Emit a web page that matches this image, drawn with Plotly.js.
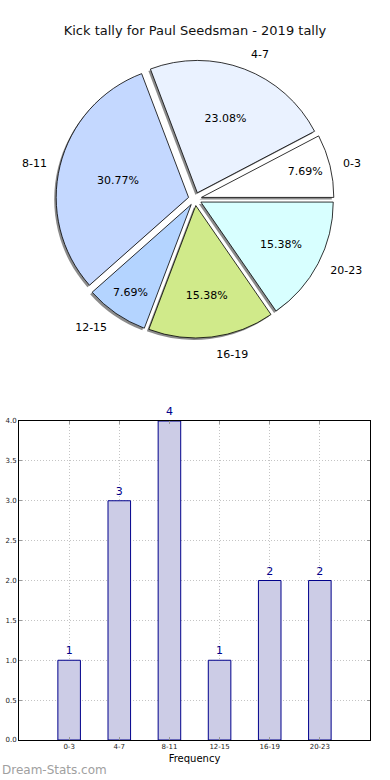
<!DOCTYPE html>
<html>
<head>
<meta charset="utf-8">
<script src="https://cdn.plot.ly/plotly-3.0.1.min.js"></script>
<style>html,body{margin:0;padding:0;background:#fff;}#chart{width:390px;height:780px;}</style>
</head>
<body>
<div id="chart"></div>
<script>
var categories = ["0-3", "4-7", "8-11", "12-15", "16-19", "20-23"];
var counts = [1, 3, 4, 1, 2, 2];
var sliceColors = ["#ffffff", "#eaf2ff", "#c4d8ff", "#b4d4ff", "#d0ea8a", "#d8ffff"];
var yTicks = [0, 0.5, 1, 1.5, 2, 2.5, 3, 3.5, 4];

var W = 390, H = 780;
function px(x) { return x / W; }
function py(y) { return 1 - y / H; }

var total = counts.reduce(function (a, b) { return a + b; }, 0);
// Plotly's counterclockwise pie ends the first slice at the rotation angle;
// shift so the first slice starts at 3 o'clock like the reference.
var rot = 90 - 360 * counts[0] / total;

var pieDomain = {x: [px(56), px(334)], y: [py(338), py(60)]};
var shadowDomain = {x: [px(54), px(332)], y: [py(340), py(62)]};
var pulls = categories.map(function () { return 0.05; });

var shadow = {
  type: "pie", labels: categories, values: counts, sort: false,
  direction: "counterclockwise", rotation: rot, pull: pulls,
  marker: {colors: categories.map(function () { return "rgba(110,110,110,0.8)"; }), line: {width: 0}},
  textinfo: "none", hoverinfo: "skip", showlegend: false, domain: shadowDomain
};

var pie = {
  type: "pie", labels: categories, values: counts, sort: false,
  direction: "counterclockwise", rotation: rot, pull: pulls,
  marker: {colors: sliceColors, line: {color: "#000000", width: 0.8}},
  texttemplate: "%{percent:.2%}", textposition: "inside", insidetextorientation: "horizontal",
  textfont: {family: "DejaVu Sans", size: 11, color: "#000000"},
  showlegend: false, domain: pieDomain
};

var labelPie = {
  type: "pie", labels: categories, values: counts, sort: false,
  direction: "counterclockwise", rotation: rot, pull: pulls,
  marker: {colors: categories.map(function () { return "rgba(0,0,0,0)"; }), line: {width: 0}},
  textinfo: "label", textposition: "outside",
  outsidetextfont: {family: "DejaVu Sans", size: 11, color: "#000000"},
  hoverinfo: "skip", showlegend: false, domain: {x: [px(14), px(376)], y: [py(349), py(51)]},
  automargin: false
};

var bars = {
  type: "bar", x: categories, y: counts, width: 0.45,
  marker: {color: "#ccccе6".replace("е", "e"), line: {color: "#00008b", width: 1}},
  text: counts.map(String), textposition: "outside", cliponaxis: false,
  textfont: {family: "DejaVu Sans", size: 11, color: "#00008b"},
  xaxis: "x", yaxis: "y", showlegend: false
};

var layout = {
  width: W, height: H,
  margin: {l: 0, r: 0, t: 0, b: 0},
  paper_bgcolor: "#ffffff", plot_bgcolor: "#ffffff",
  font: {family: "DejaVu Sans", color: "#000000"},
  title: {text: "Kick tally for Paul Seedsman - 2019 tally", x: 0.5, xanchor: "center",
          y: py(30), yanchor: "middle", yref: "paper",
          font: {family: "DejaVu Sans", size: 13, color: "#111111"}},
  xaxis: {
    domain: [px(19), px(370)], anchor: "y",
    type: "category", range: [-1, 6],
    showline: true, linecolor: "#000000", linewidth: 1, mirror: "ticks",
    ticks: "inside", ticklen: 3, tickcolor: "#999999",
    showgrid: true, gridcolor: "#c4c4c4", griddash: "1px,2px", gridwidth: 1,
    tickfont: {family: "DejaVu Sans", size: 7, color: "#222222"},
    title: {text: "Frequency", font: {family: "DejaVu Sans", size: 10, color: "#000000"}, standoff: 4},
    zeroline: false, fixedrange: true
  },
  yaxis: {
    domain: [py(740), py(421)], anchor: "x",
    range: [0, 4], tickvals: yTicks, tickformat: ".1f",
    showline: true, linecolor: "#000000", linewidth: 1, mirror: "ticks",
    ticks: "inside", ticklen: 3, tickcolor: "#999999",
    showgrid: true, gridcolor: "#c4c4c4", griddash: "1px,2px", gridwidth: 1,
    tickfont: {family: "DejaVu Sans", size: 7, color: "#222222"},
    zeroline: false, fixedrange: true
  },
  annotations: [{
    text: "Dream-Stats.com", xref: "paper", yref: "paper",
    x: 0, xanchor: "left", y: py(770), yanchor: "middle", showarrow: false,
    font: {family: "DejaVu Sans", size: 12, color: "#a0a0a0"}
  }]
};

Plotly.newPlot("chart", [shadow, pie, labelPie, bars], layout, {staticPlot: true, displayModeBar: false});
</script>
</body>
</html>
